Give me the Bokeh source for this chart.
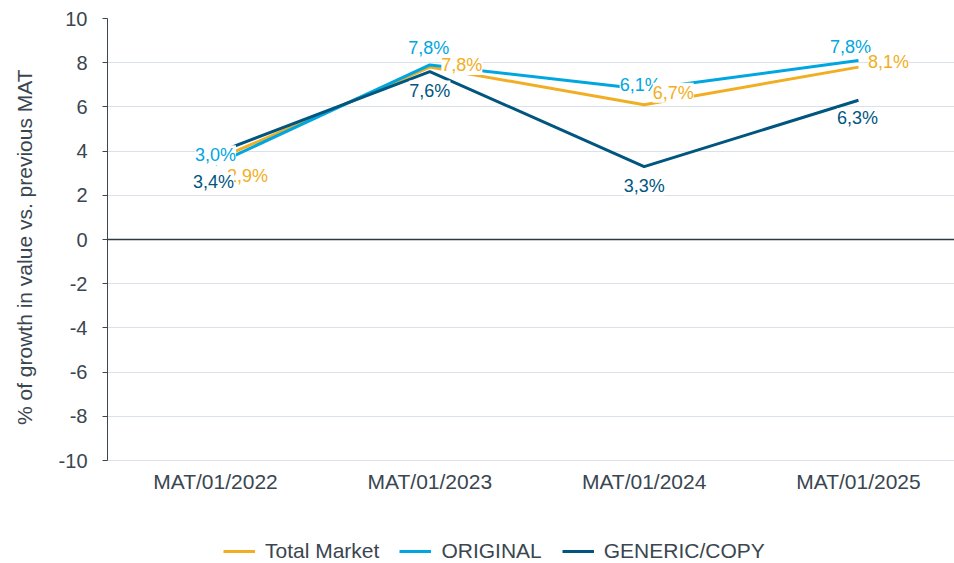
from bokeh.plotting import figure
from bokeh.models import (ColumnDataSource, LabelSet, Range1d, FixedTicker, Span,
                          Legend, LegendItem)
from bokeh.core.properties import value
from bokeh.embed import file_html
from bokeh.resources import INLINE

# ---- data ----
periods = ["MAT/01/2022", "MAT/01/2023", "MAT/01/2024", "MAT/01/2025"]
total_market = [3.6, 7.8, 6.1, 7.8]
original = [3.4, 7.9, 6.8, 8.1]
generic_copy = [3.9, 7.6, 3.3, 6.3]
total_market_labels = ["2,9%", "7,8%", "6,7%", "8,1%"]
original_labels = ["3,0%", "7,8%", "6,1%", "7,8%"]
generic_copy_labels = ["3,4%", "7,6%", "3,3%", "6,3%"]
y_ticks = [-10, -8, -6, -4, -2, 0, 2, 4, 6, 8, 10]
series_names = ["Total Market", "ORIGINAL", "GENERIC/COPY"]
y_title = "% of growth in value vs. previous MAT"

# ---- styles ----
C_TOTAL = "#F2AE22"
C_ORIG = "#00A6E0"
C_GEN = "#00567F"
TXT = "#3a4650"
FONT = "Liberation Sans"

xs = list(range(len(periods)))
y_min, y_max = y_ticks[0], y_ticks[-1]

# the frame extends below the value axis to host the category labels and legend
p = figure(frame_width=847, frame_height=545, x_range=Range1d(-0.504, 3.448),
           y_range=Range1d(-14.66, y_max),
           output_backend="svg", toolbar_location=None,
           min_border_left=107, min_border_right=0, min_border_top=18, min_border_bottom=0)
p.outline_line_color = None
p.background_fill_color = "white"

# y axis
yax = p.yaxis[0]
yax.bounds = (y_min, y_max)
yax.ticker = FixedTicker(ticks=y_ticks)
yax.major_label_overrides = {t: str(t) for t in y_ticks}
yax.minor_tick_line_color = None
yax.major_tick_in = 0
yax.major_tick_out = 5
yax.major_tick_line_color = TXT
yax.axis_line_color = TXT
yax.major_label_text_font = FONT
yax.major_label_text_font_size = "20px"
yax.major_label_text_color = TXT
yax.major_label_standoff = 15
# non-breaking padding centres the title on the -10..10 span rather than the taller frame
yax.axis_label = "\u00a0" * 15 + y_title
yax.axis_label_text_font = FONT
yax.axis_label_text_font_size = "21px"
yax.axis_label_text_font_style = "normal"
yax.axis_label_text_color = TXT
yax.axis_label_standoff = 20

p.xaxis.visible = False
p.xgrid.grid_line_color = None
p.ygrid.ticker = FixedTicker(ticks=y_ticks)
p.ygrid.grid_line_color = "#dbe1e9"
p.ygrid.grid_line_width = 1

p.add_layout(Span(location=0, dimension="width", line_color="#2e3942", line_width=1.6))

src = ColumnDataSource(dict(
    x=xs, total=total_market, orig=original, gen=generic_copy,
    total_lab=total_market_labels, orig_lab=original_labels, gen_lab=generic_copy_labels,
    orig_dx=[0, -1, -4, -8], orig_dy=[9, 17, 4, 13],
    total_dx=[32, 32, 29, 30], total_dy=[-16, 2, 12, 5],
    gen_dx=[-2, 0, 0, -1], gen_dy=[-29, -19, -19, -18],
    base=[y_min] * len(xs), period=periods,
))

r_total = p.line("x", "total", source=src, line_color=C_TOTAL, line_width=3)
r_orig = p.line("x", "orig", source=src, line_color=C_ORIG, line_width=3)
r_gen = p.line("x", "gen", source=src, line_color=C_GEN, line_width=3)

def labels(ycol, tcol, dx, dy, color):
    return LabelSet(x="x", y=ycol, text=tcol, source=src, x_offset=dx, y_offset=dy,
                    text_color=color, text_font=value(FONT), text_font_size="18px",
                    text_align="center", text_baseline="middle",
                    background_fill_color="white")

p.add_layout(labels("orig", "orig_lab", "orig_dx", "orig_dy", C_ORIG))
p.add_layout(labels("total", "total_lab", "total_dx", "total_dy", C_TOTAL))
p.add_layout(labels("gen", "gen_lab", "gen_dx", "gen_dy", C_GEN))

# category labels under the value axis
p.add_layout(LabelSet(x="x", y="base", text="period", source=src, y_offset=-21,
                      text_color=TXT, text_font=value(FONT), text_font_size="21px",
                      text_align="center", text_baseline="middle"))

legend = Legend(items=[LegendItem(label=series_names[0], renderers=[r_total]),
                       LegendItem(label=series_names[1], renderers=[r_orig]),
                       LegendItem(label=series_names[2], renderers=[r_gen])],
                orientation="horizontal", location=(116, 0))
legend.label_text_font = FONT
legend.label_text_font_size = "21px"
legend.label_text_color = TXT
legend.border_line_color = None
legend.background_fill_alpha = 0
legend.glyph_width = 32
legend.label_standoff = 10
legend.spacing = 20
legend.padding = 2
legend.margin = 0
p.add_layout(legend, "center")

open("out.html", "w").write(file_html(p, INLINE))
